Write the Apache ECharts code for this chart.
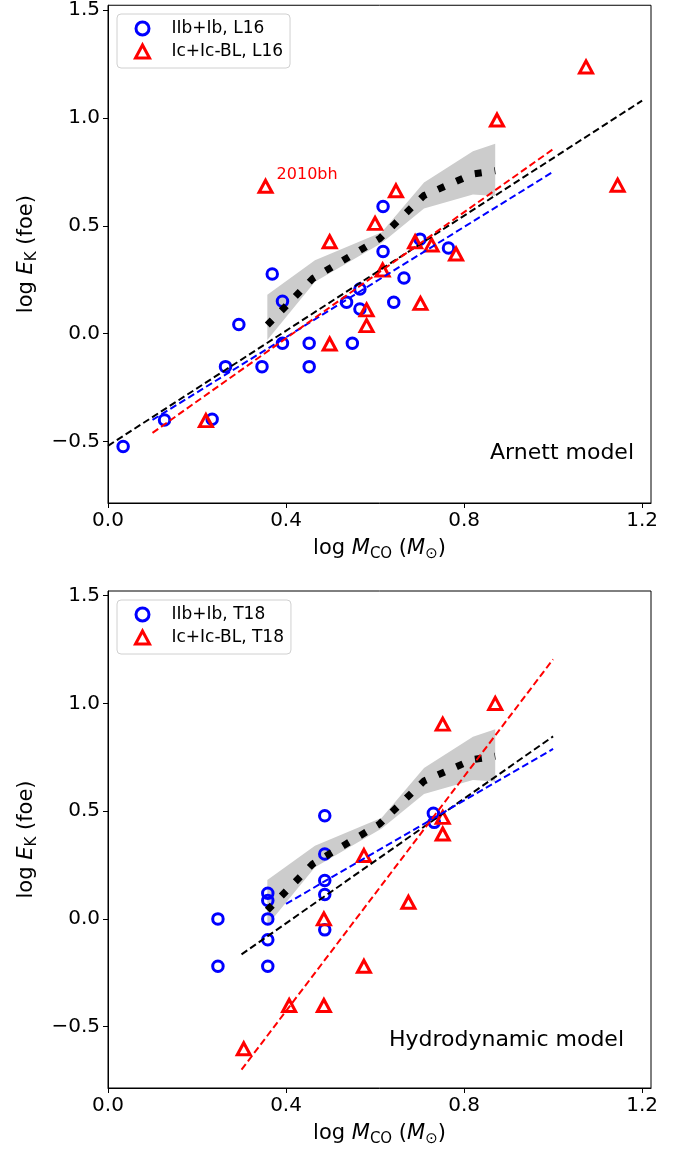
<!DOCTYPE html>
<html>
<head>
<meta charset="utf-8">
<script src="https://cdn.jsdelivr.net/npm/echarts@6/dist/echarts.min.js"></script>
<style>
  html, body { margin: 0; padding: 0; background: #fff; }
  #chart { width: 692px; height: 1151px; }
</style>
</head>
<body>
<div id="chart"></div>
<script>
// axis ticks
const xTicks = [0, 0.4, 0.8, 1.2];
const yTicks = [-0.5, 0, 0.5, 1.0, 1.5];

// Arnett model (L16)
const arnettIIbX = [0.034, 0.127, 0.234, 0.264, 0.294, 0.346, 0.369, 0.392, 0.392, 0.452, 0.452, 0.536, 0.549, 0.566, 0.566, 0.618, 0.618, 0.642, 0.665, 0.701, 0.765];
const arnettIIbY = [-0.523, -0.40, -0.397, -0.153, 0.042, -0.153, 0.276, 0.150, -0.045, -0.045, -0.153, 0.145, -0.045, 0.207, 0.114, 0.589, 0.381, 0.145, 0.258, 0.438, 0.397];
const arnettIcX = [0.220, 0.354, 0.498, 0.498, 0.581, 0.581, 0.600, 0.617, 0.647, 0.690, 0.702, 0.727, 0.782, 0.874, 1.074, 1.145];
const arnettIcY = [-0.403, 0.683, 0.426, -0.048, 0.110, 0.037, 0.511, 0.295, 0.662, 0.426, 0.140, 0.411, 0.369, 0.990, 1.236, 0.688];
const arnettIcNames = ['', '2010bh', '', '', '', '', '', '', '', '', '', '', '', '', '', ''];

// fits, Arnett panel
const arnettAllFitX = [0.0, 1.2];
const arnettAllFitY = [-0.52, 1.08];
const arnettIIbFitX = [0.1, 1.0];
const arnettIIbFitY = [-0.40, 0.75];
const arnettIcFitX = [0.1, 1.0];
const arnettIcFitY = [-0.46, 0.855];

// Hydrodynamic model (T18)
const hydroIIbX = [0.247, 0.247, 0.359, 0.359, 0.359, 0.359, 0.359, 0.487, 0.487, 0.487, 0.487, 0.487, 0.731, 0.733];
const hydroIIbY = [0.0, -0.22, 0.119, 0.085, 0.0, -0.097, -0.22, 0.479, 0.301, 0.178, 0.113, -0.051, 0.49, 0.448];
const hydroIcX = [0.305, 0.407, 0.485, 0.485, 0.575, 0.575, 0.675, 0.752, 0.752, 0.752, 0.870];
const hydroIcY = [-0.603, -0.402, -0.402, 0.0, 0.294, -0.22, 0.077, 0.471, 0.394, 0.904, 1.0];

// fits, hydro panel
const hydroAllFitX = [0.30, 1.0];
const hydroAllFitY = [-0.165, 0.847];
const hydroIIbFitX = [0.40, 1.0];
const hydroIIbFitY = [0.07, 0.789];
const hydroIcFitX = [0.30, 1.0];
const hydroIcFitY = [-0.70, 1.205];

// model curve + band (same in both panels)
const curveX = [0.358, 0.46, 0.61, 0.71, 0.82, 0.87];
const curveY = [0.04, 0.255, 0.44, 0.64, 0.74, 0.755];
const bandX = [0.358, 0.465, 0.615, 0.71, 0.82, 0.87];
const bandUpper = [0.18, 0.34, 0.47, 0.70, 0.845, 0.88];
const bandLower = [-0.03, 0.24, 0.42, 0.58, 0.645, 0.638];

const FONT = 'DejaVu Sans';
const BLUE = '#0000ff';
const RED = '#ff0000';

const zip = (xs, ys) => xs.map((x, i) => [x, ys[i]]);

const chart = echarts.init(document.getElementById('chart'));

const grids = [
  { left: 108, top: 5, width: 543, height: 498 },
  { left: 108, top: 591, width: 543, height: 497 },
];

const axisNameRich = {
  n: { fontFamily: FONT, fontSize: 21, color: '#000', lineHeight: 26 },
  i: { fontFamily: FONT, fontSize: 21, fontStyle: 'italic', color: '#000', lineHeight: 26 },
  s: { fontFamily: FONT, fontSize: 15, color: '#000', lineHeight: 15, verticalAlign: 'bottom' },
};

function fmtTick(v) {
  return (v < 0 ? '\u2212' : '') + Math.abs(v).toFixed(1);
}

function makeX(idx) {
  return {
    type: 'value', gridIndex: idx, min: 0, max: 1.22,
    name: '{n|log }{i|M}{s|CO}{n| (}{i|M}{s|\u2299}{n|)}',
    nameLocation: 'middle', nameGap: 33,
    nameTextStyle: { rich: axisNameRich },
    axisLine: { onZero: false, lineStyle: { color: '#000', width: 1 } },
    axisTick: { customValues: xTicks, length: 5, lineStyle: { color: '#000' } },
    axisLabel: { customValues: xTicks, formatter: fmtTick, fontFamily: FONT, fontSize: 20, color: '#000', margin: 8 },
    splitLine: { show: false },
  };
}

function makeY(idx) {
  return {
    type: 'value', gridIndex: idx, min: -0.785, max: 1.522,
    name: '{n|log }{i|E}{s|K}{n| (foe)}',
    nameLocation: 'middle', nameGap: 68, nameRotate: 90,
    nameTextStyle: { rich: axisNameRich },
    axisLine: { onZero: false, lineStyle: { color: '#000', width: 1 } },
    axisTick: { customValues: yTicks, length: 5, lineStyle: { color: '#000' } },
    axisLabel: { customValues: yTicks, formatter: fmtTick, fontFamily: FONT, fontSize: 20, color: '#000', margin: 8 },
    splitLine: { show: false },
  };
}

function bandSeries(idx) {
  return {
    type: 'custom', xAxisIndex: idx, yAxisIndex: idx, silent: true, z: 1,
    data: [[bandX[0], bandLower[0]]],
    renderItem(params, api) {
      const pts = [];
      bandX.forEach((x, i) => pts.push(api.coord([x, bandUpper[i]])));
      for (let i = bandX.length - 1; i >= 0; i--) pts.push(api.coord([bandX[i], bandLower[i]]));
      return { type: 'polygon', shape: { points: pts }, style: { fill: '#cccccc' } };
    },
  };
}

function curveSeries(idx) {
  return {
    type: 'line', xAxisIndex: idx, yAxisIndex: idx, silent: true, z: 3,
    data: zip(curveX, curveY), showSymbol: false, symbol: 'none',
    lineStyle: { color: '#000', width: 7, type: [7, 13], cap: 'butt' },
  };
}

function fitSeries(idx, xs, ys, color) {
  return {
    type: 'line', xAxisIndex: idx, yAxisIndex: idx, silent: true, z: 4,
    data: zip(xs, ys), showSymbol: false, symbol: 'none',
    lineStyle: { color: color, width: 2, type: [7, 3.5] },
  };
}

const circleStyle = { color: 'rgba(0,0,0,0)', borderColor: BLUE, borderWidth: 3, opacity: 1 };
const triStyle = { color: 'rgba(0,0,0,0)', borderColor: RED, borderWidth: 3, borderJoin: 'miter', opacity: 1 };

function scatterSeries(idx, name, xs, ys, kind, names) {
  const data = xs.map((x, i) => {
    const item = { value: [x, ys[i]] };
    if (names && names[i]) {
      item.label = {
        show: true, formatter: names[i], position: 'right', distance: 3, offset: [0, -11],
        color: RED, fontFamily: FONT, fontSize: 16,
      };
    }
    return item;
  });
  return {
    type: 'scatter', name: name, xAxisIndex: idx, yAxisIndex: idx, z: 2,
    symbol: kind === 'circle' ? 'circle' : 'triangle',
    symbolSize: kind === 'circle' ? 10.5 : [13, 12],
    itemStyle: kind === 'circle' ? circleStyle : triStyle,
    data: data,
  };
}

function makeLegend(top, n1, n2) {
  return {
    left: 117, top: top, orient: 'vertical',
    itemWidth: 14, itemHeight: 13, itemGap: 6,
    padding: [6, 7, 8, 17],
    backgroundColor: '#fff', borderColor: '#d0d0d0', borderWidth: 1, borderRadius: 4,
    formatter: '\u2002\u2002{name}',
    textStyle: { fontFamily: FONT, fontSize: 17, color: '#000' },
    selectedMode: false,
    data: [
      { name: n1, icon: 'circle', itemStyle: circleStyle },
      { name: n2, icon: 'triangle', itemStyle: triStyle },
    ],
  };
}

const option = {
  animation: false,
  backgroundColor: '#fff',
  grid: grids.map(g => Object.assign({ show: true, borderColor: '#000', borderWidth: 1, backgroundColor: 'transparent' }, g)),
  xAxis: [makeX(0), makeX(1)],
  yAxis: [makeY(0), makeY(1)],
  legend: [
    makeLegend(14, 'IIb+Ib, L16', 'Ic+Ic-BL, L16'),
    makeLegend(600, 'IIb+Ib, T18', 'Ic+Ic-BL, T18'),
  ],
  graphic: [
    { type: 'text', x: 634, y: 453, style: { text: 'Arnett model', align: 'right', verticalAlign: 'middle', font: '22px "DejaVu Sans"', fill: '#000' } },
    { type: 'text', x: 624, y: 1040, style: { text: 'Hydrodynamic model', align: 'right', verticalAlign: 'middle', font: '22px "DejaVu Sans"', fill: '#000' } },
  ],
  series: [
    bandSeries(0),
    curveSeries(0),
    scatterSeries(0, 'IIb+Ib, L16', arnettIIbX, arnettIIbY, 'circle'),
    scatterSeries(0, 'Ic+Ic-BL, L16', arnettIcX, arnettIcY, 'tri', arnettIcNames),
    fitSeries(0, arnettAllFitX, arnettAllFitY, '#000'),
    fitSeries(0, arnettIIbFitX, arnettIIbFitY, BLUE),
    fitSeries(0, arnettIcFitX, arnettIcFitY, RED),

    bandSeries(1),
    curveSeries(1),
    scatterSeries(1, 'IIb+Ib, T18', hydroIIbX, hydroIIbY, 'circle'),
    scatterSeries(1, 'Ic+Ic-BL, T18', hydroIcX, hydroIcY, 'tri'),
    fitSeries(1, hydroAllFitX, hydroAllFitY, '#000'),
    fitSeries(1, hydroIIbFitX, hydroIIbFitY, BLUE),
    fitSeries(1, hydroIcFitX, hydroIcFitY, RED),
  ],
};

chart.setOption(option);
</script>
</body>
</html>
